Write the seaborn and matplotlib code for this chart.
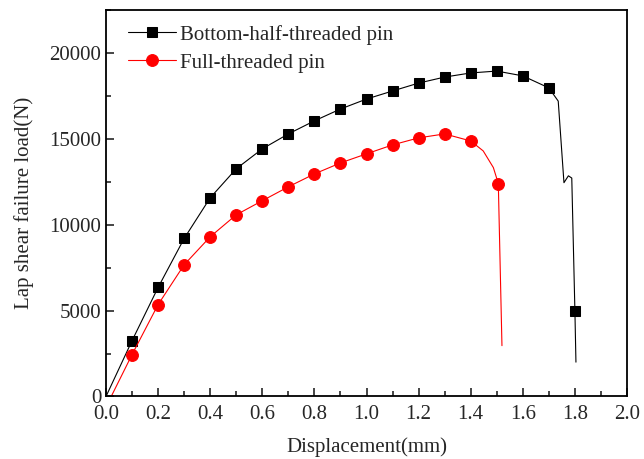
import matplotlib
matplotlib.use("Agg")
import matplotlib.pyplot as plt
import pandas as pd
import seaborn as sns
from matplotlib.ticker import MultipleLocator

# black curve: bottom-half-threaded pin (marker points every 0.1 mm + failure tail)
half_x = [0.0, 0.1, 0.2, 0.3, 0.4, 0.5, 0.6, 0.7, 0.8, 0.9, 1.0, 1.1, 1.2, 1.3,
          1.4, 1.5, 1.6, 1.7, 1.736, 1.758, 1.775, 1.788, 1.80, 1.804]
half_y = [0, 3250, 6350, 9200, 11570, 13260, 14420, 15290, 16050, 16740, 17320,
          17790, 18250, 18600, 18840, 18950, 18670, 17970, 17200, 12450, 12850,
          12720, 5000, 2000]
half_marks = list(range(1, 18)) + [22]

# red curve: full-threaded pin
full_x = [0.02, 0.1, 0.2, 0.3, 0.4, 0.5, 0.6, 0.7, 0.8, 0.9, 1.0, 1.1, 1.2, 1.3,
          1.4, 1.448, 1.487, 1.506, 1.52]
full_y = [0, 2440, 5350, 7670, 9300, 10580, 11400, 12210, 12960, 13600, 14130,
          14650, 15060, 15290, 14880, 14300, 13330, 12400, 2960]
full_marks = list(range(1, 15)) + [17]

sns.set_style("white")
plt.rcParams["font.family"] = ["Liberation Serif", "DejaVu Serif"]

fig = plt.figure(figsize=(6.44, 4.59), dpi=100)
ax = fig.add_axes([0.1646, 0.1362, 0.809, 0.8418])

half = pd.DataFrame({"x": half_x, "y": half_y})
full = pd.DataFrame({"x": full_x, "y": full_y})

sns.lineplot(data=half, x="x", y="y", ax=ax, color="black", lw=0.8,
             marker="s", markersize=7, markevery=half_marks, mec="black",
             estimator=None, sort=False, label="Bottom-half-threaded pin")
sns.lineplot(data=full, x="x", y="y", ax=ax, color="red", lw=0.8,
             marker="o", markersize=8.5, markevery=full_marks, mec="red",
             estimator=None, sort=False, label="Full-threaded pin")

ax.set_xlim(0, 2.0)
ax.set_ylim(0, 22500)
ax.xaxis.set_major_locator(MultipleLocator(0.2))
ax.xaxis.set_minor_locator(MultipleLocator(0.1))
ax.yaxis.set_major_locator(MultipleLocator(5000))
ax.yaxis.set_minor_locator(MultipleLocator(2500))
ax.xaxis.set_major_formatter(matplotlib.ticker.FormatStrFormatter("%.1f"))
ax.tick_params(which="major", direction="in", length=6, width=1.2,
               labelsize=15, top=False, right=False, left=True, bottom=True)
ax.tick_params(axis="x", which="major", pad=6)
ax.tick_params(which="minor", direction="in", length=3.5, width=1.2,
               top=False, right=False, left=True, bottom=True)
for s in ax.spines.values():
    s.set_linewidth(1.3)
    s.set_color("black")

ax.set_xlabel("Displacement(mm)", fontsize=15, labelpad=10)
ax.set_ylabel("Lap shear failure load(N)", fontsize=15, labelpad=11)

ax.legend(loc="upper left", frameon=False, fontsize=15, handlelength=2.3,
          handletextpad=0.2, labelspacing=0.4, borderaxespad=0.3,
          bbox_to_anchor=(0.015, 1.0))

fig.savefig("out.png", dpi=100)
